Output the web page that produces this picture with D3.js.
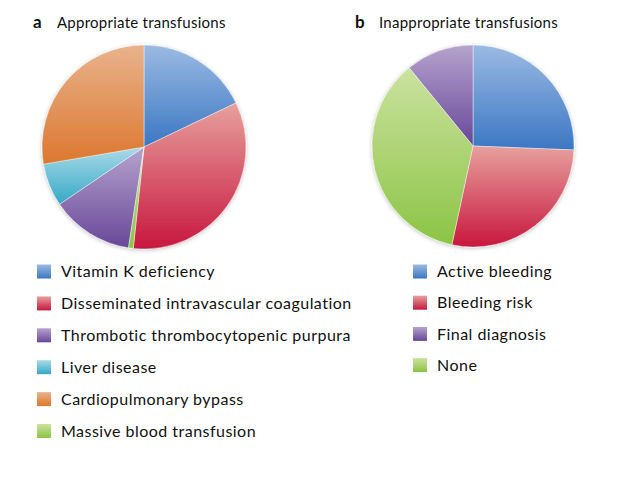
<!DOCTYPE html>
<html>
<head>
<meta charset="utf-8">
<script src="https://cdn.jsdelivr.net/npm/d3@7"></script>
<style>
  html, body { margin: 0; padding: 0; background: #fff; }
  svg { display: block; }
  text { font-family: Lato, "Open Sans", sans-serif; fill: #111; }
</style>
</head>
<body>
<svg id="chart" width="626" height="480"></svg>
<script>
// ---- data (panel a) ----
const categoriesA = ["Vitamin K deficiency", "Disseminated intravascular coagulation",
  "Thrombotic thrombocytopenic purpura", "Liver disease", "Cardiopulmonary bypass",
  "Massive blood transfusion"];
const valuesA = [17.9, 33.8, 13.1, 6.8, 27.7, 0.75];
const sliceOrderA = ["Vitamin K deficiency", "Disseminated intravascular coagulation",
  "Massive blood transfusion", "Thrombotic thrombocytopenic purpura", "Liver disease",
  "Cardiopulmonary bypass"];

// ---- data (panel b) ----
const categoriesB = ["Active bleeding", "Bleeding risk", "Final diagnosis", "None"];
const valuesB = [25.6, 27.7, 10.9, 35.7];
const sliceOrderB = ["Active bleeding", "Bleeding risk", "None", "Final diagnosis"];

const panelLetters = ["a", "b"];
const panelTitles = ["Appropriate transfusions", "Inappropriate transfusions"];

// ---- colours ----
const colorKeys = ["blue", "red", "purple", "aqua", "orange", "green"];
const gradStops = {
  blue:   ["#9bbae3", "#3b77c3"],
  red:    ["#e7a09d", "#c8173d"],
  purple: ["#b6a3cd", "#674799"],
  aqua:   ["#aadae9", "#35a9c5"],
  orange: ["#e9b38c", "#dc772f"],
  green:  ["#cbe29f", "#8bc445"]
};
const colorA = d3.scaleOrdinal().domain(categoriesA)
  .range(["blue", "red", "purple", "aqua", "orange", "green"]);
const colorB = d3.scaleOrdinal().domain(categoriesB)
  .range(["blue", "red", "purple", "green"]);

const svg = d3.select("#chart");
const defs = svg.append("defs");

colorKeys.forEach(k => {
  const g = defs.append("linearGradient").attr("id", "g-" + k)
    .attr("x1", 0).attr("y1", 0).attr("x2", 0).attr("y2", 1);
  g.append("stop").attr("offset", "0%").attr("stop-color", gradStops[k][0]);
  g.append("stop").attr("offset", "100%").attr("stop-color", gradStops[k][1]);
});

const shadow = defs.append("filter").attr("id", "shadow")
  .attr("x", "-10%").attr("y", "-10%").attr("width", "120%").attr("height", "120%");
shadow.append("feGaussianBlur").attr("in", "SourceAlpha").attr("stdDeviation", 2).attr("result", "b");
shadow.append("feOffset").attr("in", "b").attr("dx", 0).attr("dy", 1).attr("result", "o");
shadow.append("feComponentTransfer").attr("in", "o").attr("result", "s")
  .append("feFuncA").attr("type", "linear").attr("slope", 0.25);
const merge = shadow.append("feMerge");
merge.append("feMergeNode").attr("in", "s");
merge.append("feMergeNode").attr("in", "SourceGraphic");

const panels = [
  { cats: categoriesA, vals: valuesA, order: sliceOrderA, color: colorA,
    cx: 144, cy: 147, r: 102, titleX: 33, legendX: 37, legendTop: 271.5, legendStep: 31.9 },
  { cats: categoriesB, vals: valuesB, order: sliceOrderB, color: colorB,
    cx: 473, cy: 146, r: 101, titleX: 355, legendX: 413, legendTop: 271.5, legendStep: 31.2 }
];

panels.forEach((p, i) => {
  const data = p.cats.map((c, j) => ({ cat: c, value: p.vals[j] }));
  const pie = d3.pie().value(d => d.value)
    .sort((a, b) => p.order.indexOf(a.cat) - p.order.indexOf(b.cat));
  const arc = d3.arc().innerRadius(0).outerRadius(p.r);

  // title
  svg.append("text").attr("x", p.titleX).attr("y", 28)
    .style("font-size", "17px").style("font-weight", "bold")
    .text(panelLetters[i]);
  svg.append("text").attr("x", p.titleX + 24).attr("y", 27.5)
    .style("font-size", "15px").style("letter-spacing", "0.25px")
    .text(panelTitles[i]);

  const g = svg.append("g").attr("transform", `translate(${p.cx},${p.cy})`)
    .attr("filter", "url(#shadow)");
  g.selectAll("path").data(pie(data)).join("path")
    .attr("d", arc)
    .attr("fill", d => `url(#g-${p.color(d.data.cat)})`)
    .attr("stroke", "#fff").attr("stroke-width", 0.6).attr("stroke-opacity", 0.7);

  // legend
  const y = d3.scaleLinear().domain([0, 1]).range([p.legendTop, p.legendTop + p.legendStep]);
  const lg = svg.append("g");
  const items = lg.selectAll("g").data(p.cats).join("g")
    .attr("transform", (d, j) => `translate(${p.legendX},${y(j)})`);
  items.append("rect").attr("x", 0).attr("y", -7).attr("width", 14).attr("height", 14)
    .attr("fill", d => `url(#g-${p.color(d)})`);
  items.append("text").attr("x", 24).attr("y", 0).attr("dy", "0.36em")
    .style("font-size", "16px").style("letter-spacing", "0.47px")
    .text(d => d);
});
</script>
</body>
</html>
